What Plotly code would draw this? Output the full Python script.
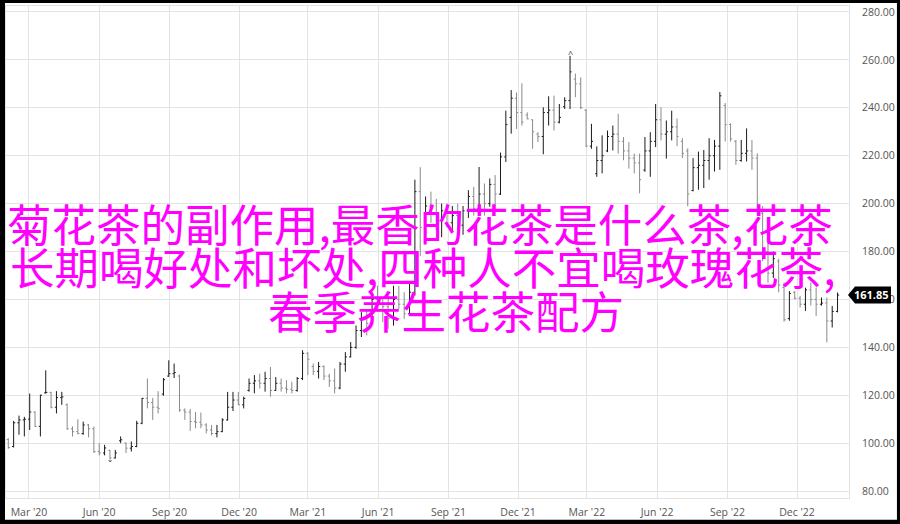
import pandas as pd
import plotly.graph_objects as go

# ----------------------------------------------------------------------
# Weekly OHLC data
# ----------------------------------------------------------------------
first_week = "2020-02-03"

open_ = [
    101.5, 98.6, 108.5, 109.7, 110.0, 113.0, 107.0, 121.0, 121.2, 115.0,
    119.0, 116.0, 106.0, 104.8, 104.0, 107.6, 106.0, 96.5, 95.9, 97.0,
    93.8, 101.0, 100.0, 97.9, 98.6, 108.3, 118.7, 117.0, 115.0, 120.5,
    128.0, 129.0, 128.0, 113.8, 113.0, 109.0, 108.7, 107.6, 105.5, 104.0,
    104.8, 109.7, 115.0, 118.0, 116.0, 122.0, 125.0, 126.0, 125.0, 127.0,
    122.0, 125.0, 123.0, 122.5, 122.0, 127.0, 137.5, 132.0, 130.0, 132.0,
    128.0, 126.0, 123.0, 133.0, 136.0, 140.0, 147.0, 152.0, 150.0, 160.0,
    158.0, 157.0, 152.0, 160.0, 158.0, 154.0, 163.0, 205.0, 190.0, 199.0,
    196.0, 193.0, 197.0, 192.0, 195.0, 191.0, 197.0, 203.0, 198.0, 204.0,
    200.0, 208.0, 204.0, 219.5, 236.0, 244.0, 238.0, 237.0, 235.0, 229.0,
    228.0, 238.0, 239.0, 234.0, 240.5, 243.0, 252.0, 250.0, 239.0, 224.0,
    212.5, 218.0, 222.0, 228.0, 229.0, 226.0, 222.0, 219.0, 217.0, 214.0,
    222.0, 226.0, 235.0, 229.0, 230.0, 232.0, 226.0, 222.0, 205.5, 215.0,
    216.0, 218.0, 220.0, 224.0, 241.0, 233.0, 226.0, 218.0, 221.0, 222.0,
    219.0, 196.0, 180.0, 171.0, 176.0, 165.0, 152.0, 163.0, 160.5, 158.0,
    164.0, 160.0, 158.0, 158.5, 151.0, 155.0,
]

high = [
    102.1, 109.3, 111.5, 111.0, 120.7, 113.3, 120.2, 130.4, 121.4, 121.7,
    121.4, 116.6, 107.0, 110.0, 109.0, 108.0, 106.9, 100.0, 99.3, 97.2,
    97.2, 102.8, 100.3, 100.7, 109.3, 118.9, 127.0, 118.9, 121.7, 127.2,
    134.6, 133.2, 128.6, 114.5, 114.3, 113.0, 112.8, 108.3, 107.6, 107.6,
    110.4, 121.4, 121.4, 121.4, 119.4, 127.0, 128.4, 129.0, 129.8, 131.8,
    127.6, 127.0, 126.3, 125.6, 127.6, 138.8, 138.0, 133.2, 133.9, 132.5,
    129.0, 131.2, 133.9, 138.0, 142.2, 149.1, 154.7, 156.0, 163.0, 165.7,
    160.2, 163.0, 165.7, 165.7, 163.0, 167.1, 210.0, 215.2, 203.0, 205.0,
    202.0, 200.0, 200.0, 199.0, 200.0, 199.0, 205.6, 207.0, 215.3, 208.4,
    210.5, 211.9, 221.3, 238.8, 247.4, 246.4, 250.2, 238.1, 235.1, 229.8,
    240.2, 244.8, 245.1, 241.6, 244.4, 261.7, 254.3, 252.7, 239.5, 233.3,
    223.9, 228.5, 230.5, 232.6, 237.5, 227.8, 225.7, 220.9, 220.9, 227.8,
    229.8, 241.6, 240.2, 234.7, 238.8, 235.5, 227.3, 223.1, 219.0, 221.7,
    222.4, 227.3, 226.6, 246.6, 242.0, 233.5, 226.6, 226.6, 231.4, 226.6,
    221.0, 199.0, 184.0, 180.0, 177.0, 167.1, 163.5, 163.5, 161.5, 164.9,
    167.1, 164.9, 160.8, 160.8, 157.3, 162.9,
]

low = [
    97.6, 98.2, 103.5, 102.8, 105.5, 106.8, 102.8, 120.7, 114.5, 112.4,
    116.0, 105.5, 102.8, 103.7, 103.5, 102.4, 95.9, 94.9, 94.9, 93.2,
    93.6, 100.0, 95.9, 96.5, 98.3, 107.9, 114.5, 109.7, 112.4, 119.8,
    127.7, 127.2, 113.1, 109.7, 105.1, 106.2, 106.2, 104.1, 103.2, 102.4,
    104.6, 109.4, 113.4, 115.9, 114.5, 121.5, 120.8, 122.8, 121.5, 119.4,
    121.8, 121.5, 120.8, 120.8, 121.5, 126.3, 128.4, 128.4, 127.0, 126.3,
    123.5, 120.8, 122.5, 129.8, 135.8, 139.4, 144.3, 145.0, 149.8, 154.7,
    150.5, 147.7, 149.1, 156.0, 151.9, 153.5, 161.6, 178.0, 187.0, 192.0,
    189.0, 186.0, 190.0, 188.0, 189.0, 187.0, 194.0, 195.0, 196.0, 195.0,
    198.7, 197.3, 203.6, 217.4, 229.2, 231.2, 232.6, 235.2, 222.9, 225.7,
    220.6, 232.6, 230.5, 233.5, 239.5, 239.5, 244.4, 239.5, 223.6, 222.9,
    211.2, 212.6, 221.5, 222.2, 220.9, 218.1, 214.6, 212.6, 204.3, 213.3,
    211.2, 223.6, 226.4, 218.8, 226.4, 224.0, 219.0, 198.9, 205.1, 205.8,
    206.5, 210.0, 213.4, 214.1, 225.9, 225.9, 216.2, 217.5, 217.6, 214.1,
    195.0, 176.0, 167.0, 169.0, 163.0, 150.7, 151.1, 160.0, 156.6, 155.2,
    157.5, 153.1, 157.4, 142.1, 148.3, 154.6,
]

close = [
    98.2, 108.5, 109.7, 110.0, 113.0, 107.0, 120.0, 121.2, 115.0, 119.0,
    119.3, 106.0, 104.8, 104.0, 107.6, 106.0, 96.5, 95.9, 98.0, 93.8,
    95.9, 101.4, 97.9, 98.6, 108.3, 118.7, 117.0, 115.0, 114.5, 126.5,
    129.0, 129.5, 113.8, 113.0, 109.0, 108.7, 107.6, 105.5, 104.0, 104.8,
    109.7, 115.0, 118.0, 116.0, 118.7, 125.0, 126.0, 125.0, 127.0, 122.0,
    125.0, 123.0, 122.5, 122.0, 127.0, 137.5, 135.0, 130.0, 132.0, 128.0,
    126.0, 123.0, 133.0, 136.0, 140.0, 147.0, 152.0, 150.0, 160.0, 158.0,
    157.0, 152.0, 160.0, 158.0, 154.0, 163.0, 205.0, 190.0, 199.0, 196.0,
    193.0, 197.0, 192.0, 195.0, 191.0, 197.0, 203.0, 198.0, 204.0, 200.0,
    208.0, 204.0, 219.5, 233.0, 244.0, 238.0, 234.0, 235.4, 230.0, 228.0,
    238.0, 239.0, 234.0, 236.0, 243.0, 255.0, 250.0, 240.0, 224.0, 226.0,
    218.0, 220.0, 228.0, 229.0, 226.0, 222.0, 219.0, 217.0, 210.0, 222.0,
    226.0, 235.0, 229.0, 230.0, 232.0, 228.0, 221.0, 204.0, 215.0, 216.0,
    218.0, 220.0, 224.0, 245.0, 233.0, 227.0, 218.0, 221.0, 222.0, 219.0,
    197.0, 180.0, 171.0, 177.0, 166.0, 151.5, 162.5, 160.5, 158.0, 164.0,
    160.0, 158.0, 158.5, 151.0, 155.0, 161.85,
]

tick_dates = [
    "2020-03-01", "2020-06-01", "2020-09-01", "2020-12-01",
    "2021-03-01", "2021-06-01", "2021-09-01", "2021-12-01",
    "2022-03-01", "2022-06-01", "2022-09-01", "2022-12-01",
]
tick_labels = [
    "Mar '20", "Jun '20", "Sep '20", "Dec '20",
    "Mar '21", "Jun '21", "Sep '21", "Dec '21",
    "Mar '22", "Jun '22", "Sep '22", "Dec '22",
]
price_ticks = [80, 100, 120, 140, 160, 180, 200, 220, 240, 260, 280]

headline = [
    "菊花茶的副作用,最香的花茶是什么茶,花茶",
    "长期喝好处和坏处,四种人不宜喝玫瑰花茶,",
    "春季养生花茶配方",
]

# ----------------------------------------------------------------------
# Layout constants (pixels)
# ----------------------------------------------------------------------
W, H = 900, 524
PLOT_L, PLOT_R, PLOT_T, PLOT_B = 6, 850, 5, 500
Y_RANGE = [77.1, 282.5]
X_RANGE = ["2020-01-31", "2023-02-07"]
GRID = "#e3e3e3"
TEXT = "#555555"


def px_x(px):
    return (px - PLOT_L) / (PLOT_R - PLOT_L)


def px_y(py):
    return (PLOT_B - py) / (PLOT_B - PLOT_T)


def val_y(v):
    return (v - Y_RANGE[0]) / (Y_RANGE[1] - Y_RANGE[0])


dates = pd.date_range(first_week, periods=len(close), freq="W-MON")

fig = go.Figure(go.Ohlc(
    x=dates,
    open=open_, high=high, low=low, close=close,
    increasing=dict(line=dict(color="#1a1a1a", width=1)),
    decreasing=dict(line=dict(color="#8a8a8a", width=1)),
    tickwidth=0.3,
    hoverinfo="skip",
))

# white card inside the black screenshot frame (paper is black)
fig.add_shape(type="rect", xref="paper", yref="paper",
              x0=px_x(5), x1=px_x(898), y0=px_y(522), y1=px_y(2),
              fillcolor="#ffffff", line=dict(width=0), layer="below")

# last price tag
last = close[-1]
yc = val_y(last)
half = 8.5 / (PLOT_B - PLOT_T)
tip, left, right = px_x(849), px_x(856), px_x(892)
fig.add_shape(
    type="path", xref="paper", yref="paper",
    path=(f"M {tip},{yc} L {left},{yc + half} L {right},{yc + half} "
          f"L {right},{yc - half} L {left},{yc - half} Z"),
    fillcolor="#000000", line=dict(width=0), layer="above",
)
fig.add_annotation(
    xref="paper", yref="paper", x=px_x(873), y=yc,
    text=f"<b>{last:.2f}</b>", showarrow=False,
    font=dict(family="Open Sans", size=11, color="#ffffff"),
    xanchor="center", yanchor="middle",
)

# high / low markers
i_hi = high.index(max(high))
i_lo = low.index(min(low))
fig.add_annotation(x=dates[i_hi], y=high[i_hi], text="^", showarrow=False,
                   yshift=2, font=dict(size=9, color="#333333"))
fig.add_annotation(x=dates[i_lo], y=low[i_lo], text="ˇ", showarrow=False,
                   yshift=-6, font=dict(size=10, color="#333333"))

# overlay headline
for line, cx, cy in zip(headline, [420, 423, 447], [223, 266, 310]):
    fig.add_annotation(
        xref="paper", yref="paper", x=px_x(cx), y=px_y(cy),
        text=line, showarrow=False, xanchor="center", yanchor="middle",
        font=dict(family="Noto Sans CJK SC", size=44.5, color="#ff00ff"),
    )

fig.update_layout(
    width=W, height=H,
    margin=dict(l=PLOT_L, r=W - PLOT_R, t=PLOT_T, b=H - PLOT_B),
    paper_bgcolor="#000000",
    plot_bgcolor="#ffffff",
    showlegend=False,
    font=dict(family="Open Sans", color=TEXT),
    xaxis=dict(
        type="date", range=X_RANGE, rangeslider=dict(visible=False),
        tickvals=tick_dates, ticktext=tick_labels,
        showgrid=True, gridcolor=GRID, gridwidth=1,
        showline=True, linecolor=GRID, mirror=True,
        ticks="", tickfont=dict(size=10.5, color=TEXT),
        ticklabelstandoff=4,
    ),
    yaxis=dict(
        side="right", range=Y_RANGE, tickvals=price_ticks,
        tickformat=".2f",
        showgrid=True, gridcolor=GRID, gridwidth=1,
        showline=True, linecolor=GRID, mirror=True,
        ticks="", tickfont=dict(size=10.5, color=TEXT),
        ticklabelstandoff=10, zeroline=False,
    ),
)

fig.write_html(
    "out.html",
    config={"displayModeBar": False},
    post_script="document.body.style.margin='0';document.body.style.overflow='hidden';",
)
